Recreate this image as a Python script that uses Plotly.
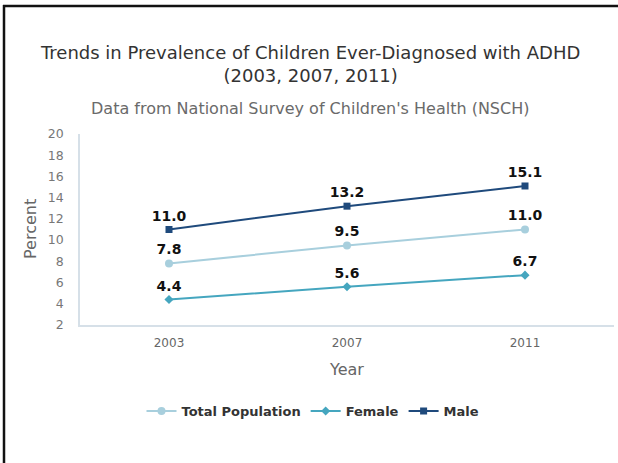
import plotly.graph_objects as go

# Survey years and prevalence (%) of children ever diagnosed with ADHD
years = ["2003", "2007", "2011"]
total_population = [7.8, 9.5, 11.0]
female = [4.4, 5.6, 6.7]
male = [11.0, 13.2, 15.1]

y_ticks = [2, 4, 6, 8, 10, 12, 14, 16, 18, 20]

FONT = "DejaVu Sans"

series = [
    ("Total Population", total_population, "#a8cfdd", "circle", 8),
    ("Female", female, "#45a6bf", "diamond", 7),
    ("Male", male, "#1f4a7c", "square", 7),
]

fig = go.Figure()
for name, vals, color, symbol, size in series:
    fig.add_trace(go.Scatter(
        x=years, y=vals, name=name,
        mode="lines+markers+text",
        line=dict(color=color, width=2),
        marker=dict(color=color, symbol=symbol, size=size),
        text=[f"{v:.1f}" for v in vals],
        textposition="top center",
        textfont=dict(family=FONT, size=14, color="#111111", weight="bold"),
        cliponaxis=False,
    ))

PW, PH = 534, 191  # plot area size in px
def px_x(x):
    return (x - 80) / PW
def px_y(y):
    return 1 + (134 - y) / PH

fig.update_layout(
    width=618, height=463,
    margin=dict(l=80, r=4, t=134, b=138),
    paper_bgcolor="white", plot_bgcolor="white",
    font=dict(family=FONT, color="#555555"),
    showlegend=True,
    legend=dict(
        orientation="h", x=px_x(313), xanchor="center", y=px_y(411), yanchor="middle",
        font=dict(family=FONT, size=13, color="#333333", weight="bold"),
        itemwidth=30, tracegroupgap=0,
    ),
    annotations=[
        dict(text="Trends in Prevalence of Children Ever-Diagnosed with ADHD<br>(2003, 2007, 2011)",
             xref="paper", yref="paper", x=px_x(310), y=px_y(64),
             xanchor="center", yanchor="middle", showarrow=False,
             font=dict(family=FONT, size=18, color="#333333")),
        dict(text="Data from National Survey of Children's Health (NSCH)",
             xref="paper", yref="paper", x=px_x(310), y=px_y(108),
             xanchor="center", yanchor="middle", showarrow=False,
             font=dict(family=FONT, size=16, color="#6a6a6a")),
        dict(text="Year",
             xref="paper", yref="paper", x=px_x(346), y=px_y(369),
             xanchor="center", yanchor="middle", showarrow=False,
             font=dict(family=FONT, size=16, color="#666666")),
        dict(text="Percent", textangle=-90,
             xref="paper", yref="paper", x=px_x(30), y=px_y(229),
             xanchor="center", yanchor="middle", showarrow=False,
             font=dict(family=FONT, size=16, color="#666666")),
    ],
    shapes=[
        dict(type="line", xref="paper", yref="paper",
             x0=px_x(3), x1=px_x(618), y0=px_y(6), y1=px_y(6),
             line=dict(color="#111111", width=2.5)),
        dict(type="line", xref="paper", yref="paper",
             x0=px_x(4), x1=px_x(4), y0=px_y(5), y1=px_y(463),
             line=dict(color="#111111", width=2.5)),
    ],
)

fig.update_xaxes(
    type="category", range=[-0.5, 2.5],
    showline=True, linecolor="#d6e0e8", linewidth=1.5,
    showgrid=False, ticks="", ticklen=0, ticklabelstandoff=6,
    tickfont=dict(family=FONT, size=12, color="#666666"),
)
fig.update_yaxes(
    range=[2, 20], tickvals=y_ticks,
    showline=True, linecolor="#d6e0e8", linewidth=1.5,
    showgrid=False, zeroline=False, ticks="", ticklabelstandoff=12,
    tickfont=dict(family=FONT, size=12.5, color="#777777"),
)

fig.write_html("out.html")
